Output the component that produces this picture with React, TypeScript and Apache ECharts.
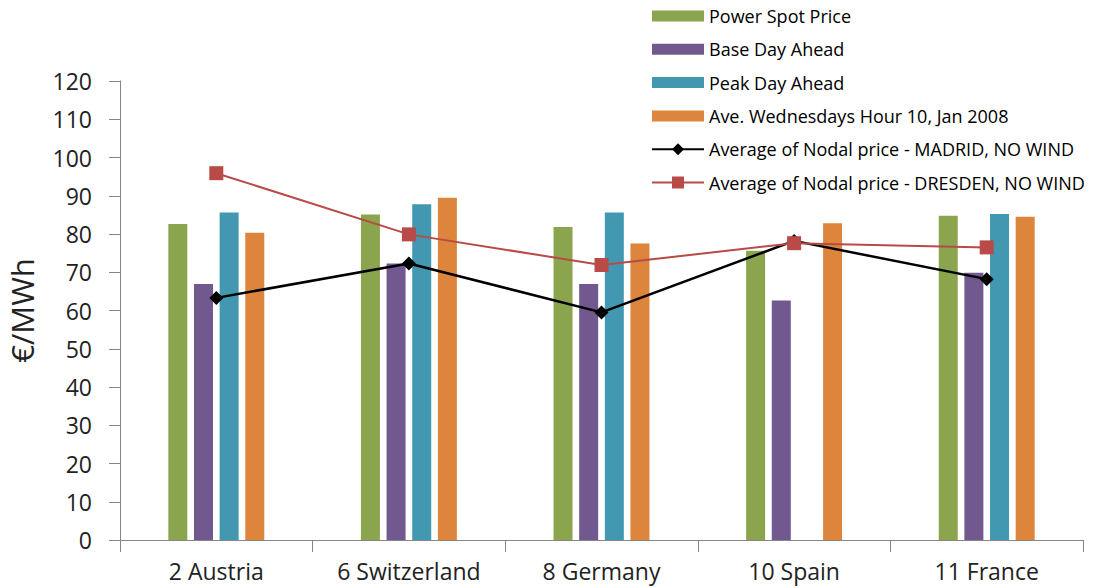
import React, { useEffect, useRef } from "react";
import * as echarts from "echarts";

const categories = ["2 Austria", "6 Switzerland", "8 Germany", "10 Spain", "11 France"];
const powerSpot = [82.6, 85.1, 81.8, 75.6, 84.8];
const baseDayAhead = [66.9, 72.3, 66.9, 62.6, 69.9];
const peakDayAhead: (number | null)[] = [85.6, 87.8, 85.6, null, 85.2];
const aveWednesdays = [80.3, 89.5, 77.5, 82.8, 84.5];
const madrid = [63.3, 72.3, 59.5, 78.2, 68.2];
const dresden = [95.9, 79.9, 71.9, 77.6, 76.5];
const yTicks = [0, 10, 20, 30, 40, 50, 60, 70, 80, 90, 100, 110, 120];

const FONT = "'Open Sans', 'Noto Sans', sans-serif";
const BAR_ICON = "path://M0,0h52v11h-52z";

export default function App() {
  const ref = useRef<HTMLDivElement>(null);
  useEffect(() => {
    if (!ref.current) return;
    const chart = echarts.init(ref.current, undefined, { renderer: "svg" });
    const barCommon = { type: "bar" as const, barWidth: 19, barGap: "35%" };
    chart.setOption({
      animation: false,
      backgroundColor: "#fff",
      textStyle: { fontFamily: FONT },
      grid: { left: 120, right: 12, top: 81, bottom: 48, containLabel: false, outerBoundsMode: "none" },
      legend: {
        orient: "vertical",
        left: 651,
        top: 7,
        padding: 0,
        itemWidth: 52,
        itemHeight: 15,
        itemGap: 15.3,
        textStyle: { fontFamily: FONT, fontSize: 18, lineHeight: 17.5, color: "#000" },
        data: [
          { name: "Power Spot Price", icon: BAR_ICON },
          { name: "Base Day Ahead", icon: BAR_ICON },
          { name: "Peak Day Ahead", icon: BAR_ICON },
          { name: "Ave. Wednesdays Hour 10, Jan 2008", icon: BAR_ICON },
          { name: "Average of Nodal price - MADRID, NO WIND" },
          { name: "Average of Nodal price - DRESDEN, NO WIND" },
        ],
      },
      xAxis: {
        type: "category",
        data: categories,
        axisLine: { lineStyle: { color: "#868686", width: 1 } },
        axisTick: { show: true, length: 12, lineStyle: { color: "#868686" }, alignWithLabel: false },
        axisLabel: { fontFamily: FONT, fontSize: 23, color: "#222", margin: 19 },
        splitLine: { show: false },
      },
      yAxis: {
        type: "value",
        min: 0,
        max: 120,
        interval: 10,
        name: "€/MWh",
        nameLocation: "middle",
        nameGap: 83,
        nameRotate: 90,
        nameTextStyle: { fontFamily: FONT, fontSize: 31, color: "#222" },
        axisLine: { show: true, lineStyle: { color: "#868686", width: 1 } },
        axisTick: { show: true, length: 11, lineStyle: { color: "#868686" } },
        axisLabel: {
          fontFamily: FONT,
          fontSize: 23,
          color: "#222",
          margin: 28,
          formatter: (v: number) => (yTicks.includes(v) ? String(v) : ""),
        },
        splitLine: { show: false },
      },
      series: [
        { ...barCommon, name: "Power Spot Price", data: powerSpot, itemStyle: { color: "#8BA54E" } },
        { ...barCommon, name: "Base Day Ahead", data: baseDayAhead, itemStyle: { color: "#71598F" } },
        { ...barCommon, name: "Peak Day Ahead", data: peakDayAhead, itemStyle: { color: "#4198B0" } },
        { ...barCommon, name: "Ave. Wednesdays Hour 10, Jan 2008", data: aveWednesdays, itemStyle: { color: "#DD843D" } },
        {
          type: "line",
          name: "Average of Nodal price - MADRID, NO WIND",
          data: madrid,
          symbol: "diamond",
          symbolSize: 14,
          lineStyle: { color: "#000", width: 2.5 },
          itemStyle: { color: "#000" },
          z: 5,
        },
        {
          type: "line",
          name: "Average of Nodal price - DRESDEN, NO WIND",
          data: dresden,
          symbol: "rect",
          symbolSize: 14,
          lineStyle: { color: "#B84A47", width: 2 },
          itemStyle: { color: "#B84A47" },
          z: 6,
        },
      ],
    });
    return () => chart.dispose();
  }, []);
  return (
    <div
      ref={ref}
      style={{ position: "fixed", left: 0, top: 0, width: 1095, height: 588 }}
    />
  );
}
